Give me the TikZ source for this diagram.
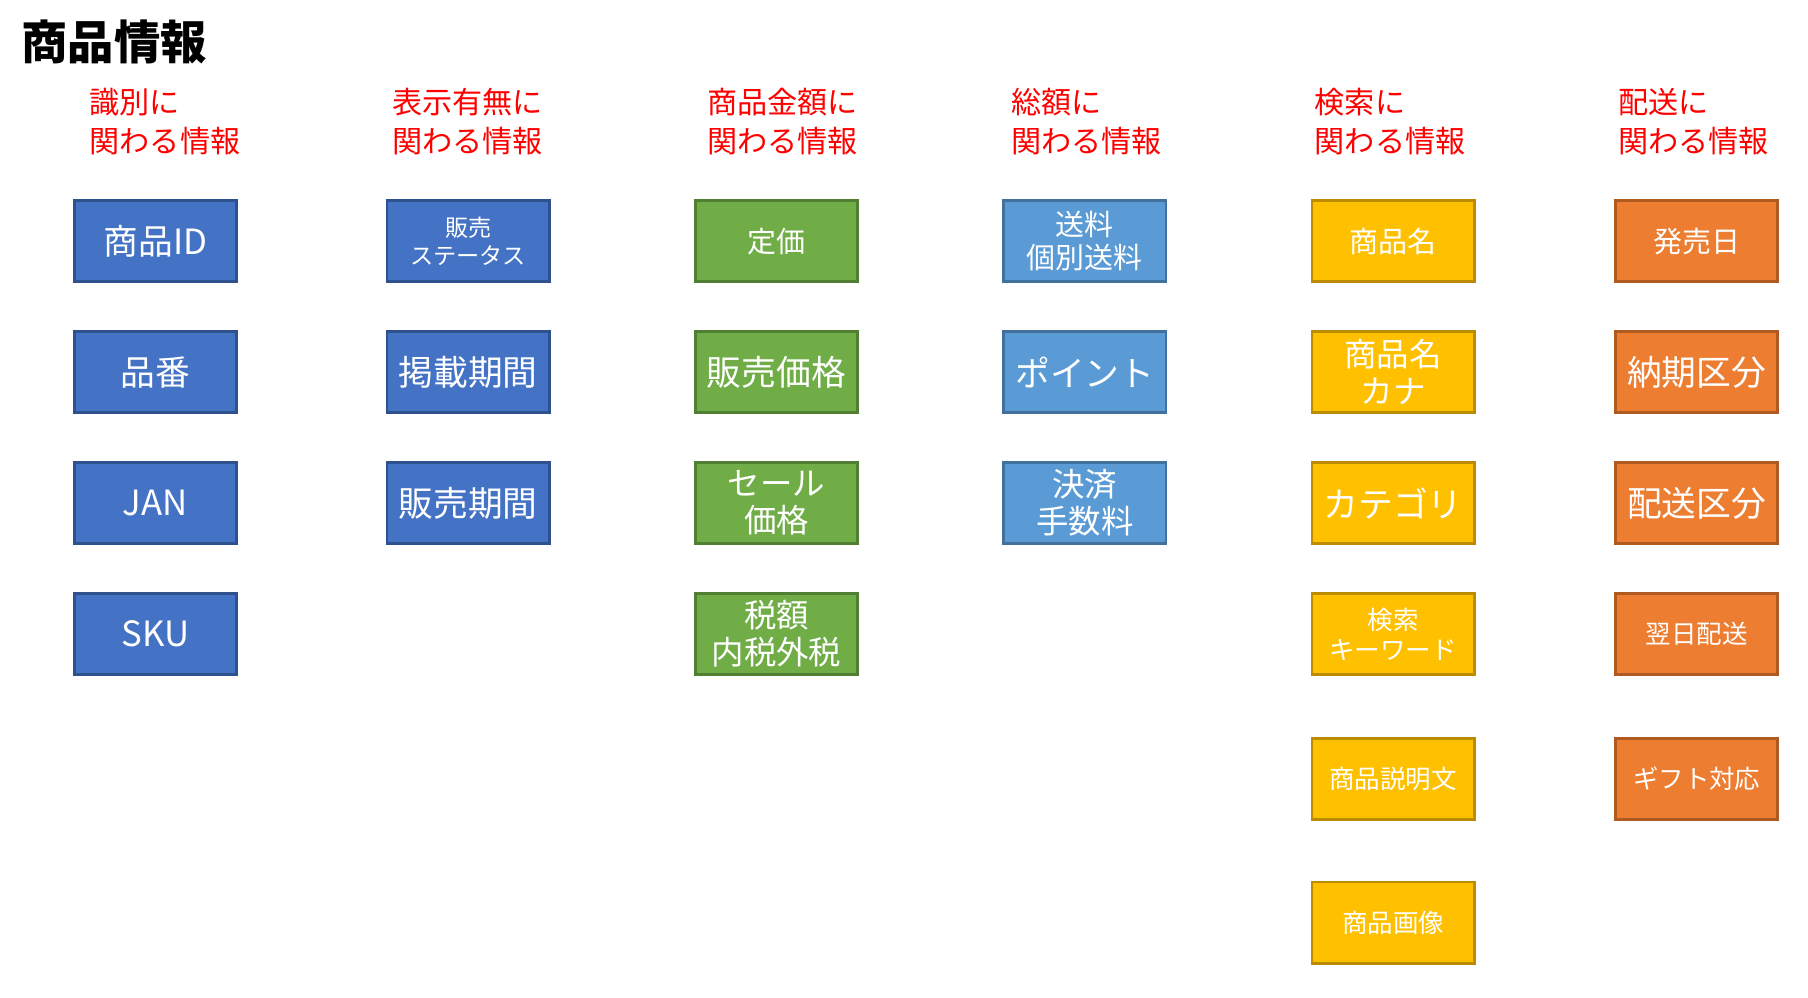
\documentclass[tikz,border=0pt]{standalone}
\usepackage{fontspec}
\setmainfont{Noto Sans CJK JP}
\definecolor{cb}{HTML}{4472C4}\definecolor{cbd}{HTML}{2F528F}
\definecolor{cg}{HTML}{70AD47}\definecolor{cgd}{HTML}{507E32}
\definecolor{cl}{HTML}{5B9BD5}\definecolor{cld}{HTML}{41719C}
\definecolor{cy}{HTML}{FFC000}\definecolor{cyd}{HTML}{BC8C00}
\definecolor{co}{HTML}{ED7D31}\definecolor{cod}{HTML}{AE5A21}
\definecolor{hred}{HTML}{FF0000}
\tikzset{
 box/.style={draw, line width=1.2pt, minimum width=70pt, minimum height=35pt, inner sep=1pt, text=white, align=center, font=\fontsize{15}{16}\selectfont},
 sm/.style={font=\fontsize{10}{12}\selectfont},
 sm2/.style={font=\fontsize{11}{13}\selectfont},
 md/.style={font=\fontsize{12.5}{14}\selectfont},
 lg2/.style={font=\fontsize{14}{16}\selectfont},
 bl/.style={box, fill=cb, draw=cbd}, gr/.style={box, fill=cg, draw=cgd},
 lb/.style={box, fill=cl, draw=cld}, yl/.style={box, fill=cy, draw=cyd},
 or/.style={box, fill=co, draw=cod},
 hdr/.style={anchor=north west, align=left, text=hred, inner sep=0pt, font=\fontsize{13}{16.5}\selectfont},
}
\begin{document}
\begin{tikzpicture}[x=0.5pt,y=-0.5pt]
\useasboundingbox[fill=white] (0,0) rectangle (1560,861);
\node[anchor=west, inner sep=0pt, font=\fontsize{20}{22}\selectfont\bfseries] (title) at (18,36) {商品情報};
\node[hdr] (h1) at (77,76) {識別に\\関わる情報};
\node[hdr] (h2) at (338,76) {表示有無に\\関わる情報};
\node[hdr] (h3) at (610,76) {商品金額に\\関わる情報};
\node[hdr] (h4) at (872,76) {総額に\\関わる情報};
\node[hdr] (h5) at (1134,76) {検索に\\関わる情報};
\node[hdr] (h6) at (1396,76) {配送に\\関わる情報};
% col 1
\node[bl] (a1) at (134,208) {商品ID};
\node[bl] (a2) at (134,321) {品番};
\node[bl] (a3) at (134,434) {JAN};
\node[bl] (a4) at (134,547) {SKU};
% col 2
\node[bl,sm] (b1) at (404,208) {販売\\ステータス};
\node[bl] (b2) at (404,321) {掲載期間};
\node[bl] (b3) at (404,434) {販売期間};
% col 3
\node[gr,md] (c1) at (670,208) {定価};
\node[gr] (c2) at (670,321) {販売価格};
\node[gr,lg2] (c3) at (670,434) {セール\\価格};
\node[gr,lg2] (c4) at (670,547) {税額\\内税外税};
% col 4
\node[lb,md] (d1) at (936,208) {送料\\個別送料};
\node[lb] (d2) at (936,321) {ポイント};
\node[lb,lg2] (d3) at (936,434) {決済\\手数料};
% col 5
\node[yl,md] (e1) at (1202,208) {商品名};
\node[yl,lg2] (e2) at (1202,321) {商品名\\カナ};
\node[yl] (e3) at (1202,434) {カテゴリ};
\node[yl,sm2] (e4) at (1202,547) {検索\\キーワード};
\node[yl,sm2] (e5) at (1202,672) {商品説明文};
\node[yl,sm2] (e6) at (1202,796) {商品画像};
% col 6
\node[or,md] (f1) at (1464,208) {発売日};
\node[or] (f2) at (1464,321) {納期区分};
\node[or] (f3) at (1464,434) {配送区分};
\node[or,sm2] (f4) at (1464,547) {翌日配送};
\node[or,sm2] (f5) at (1464,672) {ギフト対応};
\end{tikzpicture}
\end{document}
